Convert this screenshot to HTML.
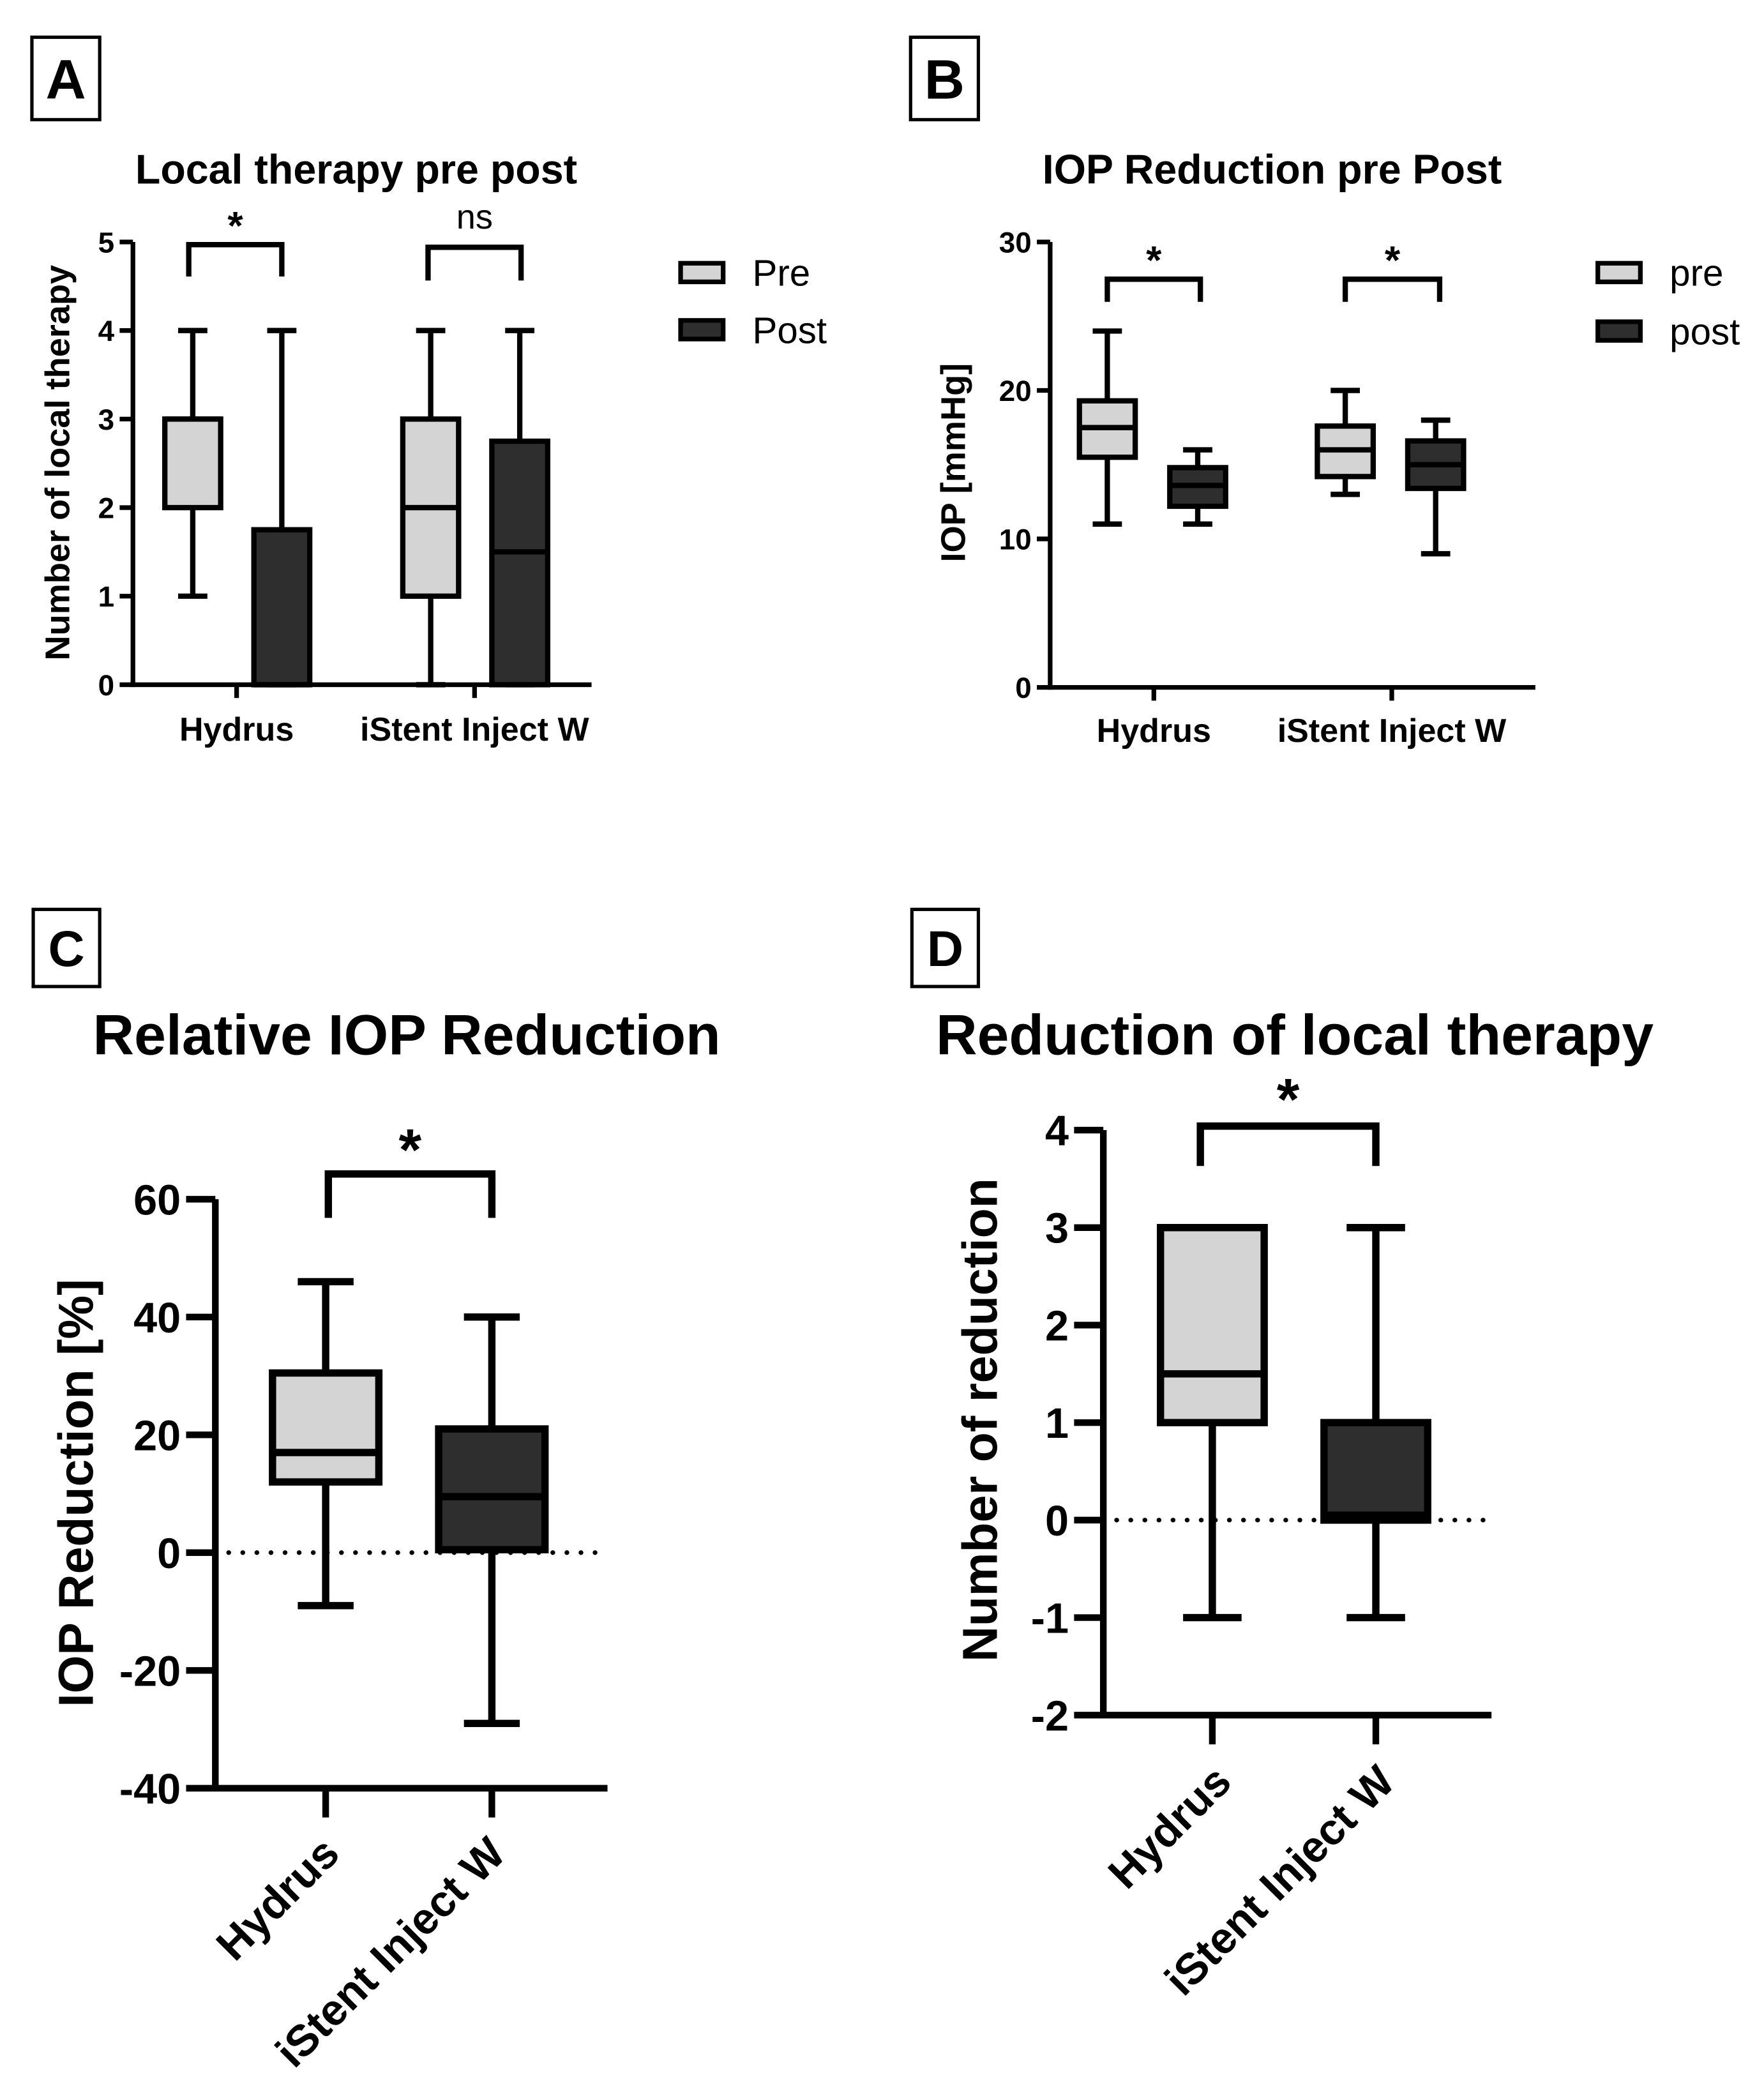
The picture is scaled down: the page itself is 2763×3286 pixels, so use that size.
<!DOCTYPE html>
<html><head><meta charset="utf-8"><style>
html,body{margin:0;padding:0;background:#fff;}
svg{display:block;}
text{font-family:"Liberation Sans",Arial,sans-serif;fill:#000;}
</style></head><body>
<svg id="fig" width="2763" height="3286" viewBox="0 0 1327 1578" preserveAspectRatio="none" xmlns="http://www.w3.org/2000/svg">
<rect x="0" y="0" width="1327" height="1578" fill="#fff"/>
</svg>
<script>
// ---- Data ----
const categories = ["Hydrus", "iStent Inject W"];
// [min, q1, median, q3, max]
const aPre  = [[1,2,3,3,4],[0,1,2,3,4]];
const aPost = [[0,0,0,1.75,4],[0,0,1.5,2.75,4]];
const aTicks = [0,1,2,3,4,5];
const bPre  = [[11,15.5,17.5,19.3,24],[13,14.2,16,17.6,20]];
const bPost = [[11,12.2,13.6,14.8,16],[9,13.4,15,16.6,18]];
const bTicks = [0,10,20,30];
const cVals = [[-9,12,17,30.5,46],[-29,0.5,9.5,21,40]];
const cTicks = [-40,-20,0,20,40,60];
const dVals = [[-1,1,1.5,3,3],[-1,0,0.05,1,3]];
const dTicks = [-2,-1,0,1,2,3,4];

const NS="http://www.w3.org/2000/svg";
const svg=document.getElementById('fig');
function el(tag,attrs,parent){const e=document.createElementNS(NS,tag);for(const k in attrs)e.setAttribute(k,attrs[k]);(parent||svg).appendChild(e);return e;}
function txt(s,attrs,parent){const t=el('text',attrs,parent);t.textContent=s;return t;}
const LIGHT="#d4d4d4", DARK="#2e2e2e";

function panelLabel(letter,x,y,w,h,fs){
  const g=el('g',{});
  
  
  el('rect',{x:x,y:y,width:w,height:h,fill:'none',stroke:'#000','stroke-width':2.5},g);
  txt(letter,{x:x+w/2,y:y+h/2+fs*0.36,'font-size':fs,'font-weight':'bold','text-anchor':'middle'},g);
}

function makeAxis(cfg){
  const g=el('g',{});
  
  
  const y=v=>cfg.y0+(v-cfg.vmin)/(cfg.vmax-cfg.vmin)*(cfg.y1-cfg.y0);
  el('line',{x1:cfg.ax,y1:y(cfg.vmax),x2:cfg.ax,y2:y(cfg.vmin)+cfg.sw/2,stroke:'#000','stroke-width':cfg.sw},g);
  el('line',{x1:cfg.ax,y1:y(cfg.vmin),x2:cfg.xend,y2:y(cfg.vmin),stroke:'#000','stroke-width':cfg.sw},g);
  cfg.ticks.forEach(t=>{
    const tk=el('line',{x1:cfg.ax-cfg.tl,y1:y(t),x2:cfg.ax,y2:y(t),stroke:'#000','stroke-width':cfg.sw},g);
    
    
    const lb=txt(String(t),{x:cfg.ax-cfg.tl-4,y:y(t)+cfg.tfs*0.36,'font-size':cfg.tfs,'font-weight':'bold','text-anchor':'end'},g);
    
    
  });
  cfg.cats.forEach((cx,i)=>{
    const tk=el('line',{x1:cx,y1:y(cfg.vmin),x2:cx,y2:y(cfg.vmin)+cfg.tl,stroke:'#000','stroke-width':cfg.sw},g);
    
    
  });
  return y;
}

function box(g,cx,w,v,y,fill,sw,cap){
  const b=el('g',{},g);
  
  
  el('line',{x1:cx,y1:y(v[4]),x2:cx,y2:y(v[0]),stroke:'#000','stroke-width':sw},b);
  el('line',{x1:cx-cap/2,y1:y(v[4]),x2:cx+cap/2,y2:y(v[4]),stroke:'#000','stroke-width':sw},b);
  el('line',{x1:cx-cap/2,y1:y(v[0]),x2:cx+cap/2,y2:y(v[0]),stroke:'#000','stroke-width':sw},b);
  el('rect',{x:cx-w/2,y:y(v[3]),width:w,height:Math.max(0.5,y(v[1])-y(v[3])),fill:fill,stroke:'#000','stroke-width':sw},b);
  el('line',{x1:cx-w/2,y1:y(v[2]),x2:cx+w/2,y2:y(v[2]),stroke:'#000','stroke-width':sw},b);
}
function bracket(x1,x2,yt,yb,sw,label,fs,ly,name){
  const g=el('g',{});
  
  
  el('polyline',{points:`${x1},${yb} ${x1},${yt} ${x2},${yt} ${x2},${yb}`,fill:'none',stroke:'#000','stroke-width':sw},g);
  txt(label,{x:(x1+x2)/2,y:ly,'font-size':fs,'font-weight':label==='ns'?'normal':'bold','text-anchor':'middle'},g);
}
function title(s,x,y,fs,name){const t=txt(s,{x:x,y:y,'font-size':fs,'font-weight':'bold','text-anchor':'middle'});
  }
function ylabel(s,x,y,fs,name){const t=txt(s,{x:x,y:y,'font-size':fs,'font-weight':'bold','text-anchor':'middle',transform:`rotate(-90 ${x} ${y})`});
  }
function legend(x,y,label,fill){
  const g=el('g',{});
  
  
  el('rect',{x:x,y:y-7,width:32,height:14,fill:fill,stroke:'#000','stroke-width':3.5},g);
  txt(label,{x:x+54,y:y+10,'font-size':28},g);
}

// ---- Panel A ----
panelLabel('A',24,28,51,62,42);
title('Local therapy pre post',268,138,31,'title-a');
ylabel('Number of local therapy',52,348,26,'y-axis-title-a');
const aCat=[178,357];
const yA=makeAxis({name:'axes-a',ax:100,xend:445,y0:515,y1:182,vmin:0,vmax:5,ticks:aTicks,tl:10,tfs:22,sw:3.5,cats:aCat});
const gA=el('g',{});
aCat.forEach((c,i)=>{box(gA,c-33,42,aPre[i],yA,LIGHT,4,22);box(gA,c+34,42,aPost[i],yA,DARK,4,22);});
categories.forEach((c,i)=>{const t=txt(c,{x:aCat[i],y:557,'font-size':25,'font-weight':'bold','text-anchor':'middle'});});
bracket(142,212,184,208,4,'*',30,180,'significance-a-hydrus');
bracket(322,392,186,211,4,'ns',26,172,'significance-a-istent');
legend(512,205,'Pre',LIGHT);legend(512,248,'Post',DARK);

// ---- Panel B ----
panelLabel('B',685,28,51,62,42);
title('IOP Reduction pre Post',957,138,31,'title-b');
ylabel('IOP [mmHg]',726,348,26,'y-axis-title-b');
const bCat=[868,1047];
const yB=makeAxis({name:'axes-b',ax:790,xend:1155,y0:517,y1:182,vmin:0,vmax:30,ticks:bTicks,tl:10,tfs:22,sw:3.5,cats:bCat});
const gB=el('g',{});
bCat.forEach((c,i)=>{box(gB,c-35,42,bPre[i],yB,LIGHT,4,22);box(gB,c+33,42,bPost[i],yB,DARK,4,22);});
categories.forEach((c,i)=>{const t=txt(c,{x:bCat[i],y:558,'font-size':25,'font-weight':'bold','text-anchor':'middle'});});
bracket(833,903,210,227,4,'*',30,206,'significance-b-hydrus');
bracket(1012,1083,210,227,4,'*',30,206,'significance-b-istent');
legend(1202,205,'pre',LIGHT);legend(1202,249,'post',DARK);

// ---- Panel C ----
panelLabel('C',25,684,50,58,38);
title('Relative IOP Reduction',306,793,43,'title-c');
ylabel('IOP Reduction [%]',70,1123,37,'y-axis-title-c');
const cCat=[245,370];
const yC=makeAxis({name:'axes-c',ax:162,xend:457,y0:1345,y1:902,vmin:-40,vmax:60,ticks:cTicks,tl:22,tfs:32,sw:5,cats:cCat});
const z1=el('line',{x1:172,y1:yC(0),x2:456,y2:yC(0),stroke:'#000','stroke-width':3.5,'stroke-dasharray':'0.1 10.5','stroke-linecap':'round'});

const gC=el('g',{});
box(gC,cCat[0],80,cVals[0],yC,LIGHT,5.5,42);box(gC,cCat[1],80,cVals[1],yC,DARK,5.5,42);
categories.forEach((c,i)=>{const x=cCat[i]+12,y=1396;const t=txt(c,{x:x,y:y,'font-size':33,'font-weight':'bold','text-anchor':'end',transform:`rotate(-45 ${x} ${y})`});});
bracket(247,370,883,916,5.5,'*',44,880,'significance-c');

// ---- Panel D ----
panelLabel('D',686,684,50,58,38);
title('Reduction of local therapy',974,793,43,'title-d');
ylabel('Number of reduction',750,1068,37,'y-axis-title-d');
const dCat=[912,1035];
const yD=makeAxis({name:'axes-d',ax:830,xend:1122,y0:1290,y1:850,vmin:-2,vmax:4,ticks:dTicks,tl:22,tfs:32,sw:5,cats:dCat});
const z2=el('line',{x1:840,y1:yD(0),x2:1122,y2:yD(0),stroke:'#000','stroke-width':3.5,'stroke-dasharray':'0.1 10.5','stroke-linecap':'round'});

const gD=el('g',{});
box(gD,dCat[0],78,dVals[0],yD,LIGHT,5.5,44);box(gD,dCat[1],78,dVals[1],yD,DARK,5.5,44);
categories.forEach((c,i)=>{const x=dCat[i]+16,y=1342;const t=txt(c,{x:x,y:y,'font-size':33,'font-weight':'bold','text-anchor':'end',transform:`rotate(-45 ${x} ${y})`});});
bracket(903,1035,847,877,5.5,'*',44,842,'significance-d');
</script>
</body></html>
